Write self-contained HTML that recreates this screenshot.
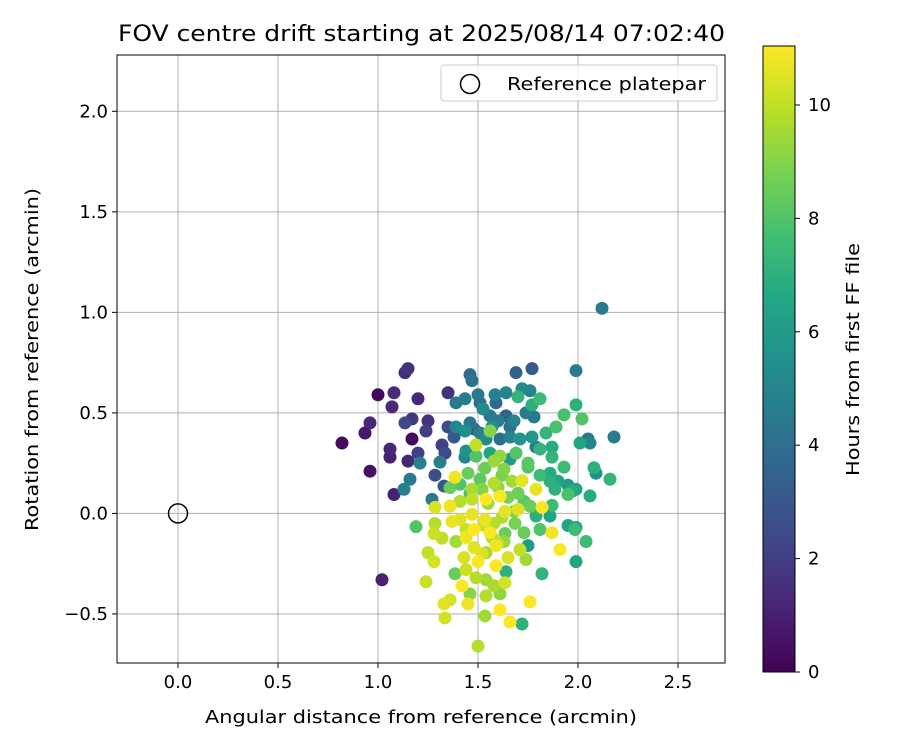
<!DOCTYPE html>
<html><head><meta charset="utf-8"><style>
body{margin:0;background:#fff;font-family:"DejaVu Sans","Liberation Sans",sans-serif}
</style></head><body>
<svg id="chart" width="900" height="750" xmlns="http://www.w3.org/2000/svg" font-family="DejaVu Sans, Liberation Sans, sans-serif">
<defs><linearGradient id="vir" x1="0" y1="1" x2="0" y2="0">
<stop offset="0" stop-color="#440154"/><stop offset="0.1" stop-color="#482475"/><stop offset="0.2" stop-color="#414487"/><stop offset="0.3" stop-color="#355f8d"/><stop offset="0.4" stop-color="#2a788e"/><stop offset="0.5" stop-color="#21918c"/><stop offset="0.6" stop-color="#22a884"/><stop offset="0.7" stop-color="#44bf70"/><stop offset="0.8" stop-color="#7ad151"/><stop offset="0.9" stop-color="#bddf26"/><stop offset="1" stop-color="#fde725"/></linearGradient>
<clipPath id="pc"><rect x="117" y="55" width="608" height="608"/></clipPath></defs>
<g id="grid"></g>
<g id="pts" clip-path="url(#pc)"></g>
<rect x="117" y="55" width="608" height="608" fill="none" stroke="#000" stroke-width="1"/>
<g id="ticks" font-size="18"></g>
<text x="118" y="41" font-size="22" textLength="607" lengthAdjust="spacingAndGlyphs">FOV centre drift starting at 2025/08/14 07:02:40</text>
<text x="205" y="723" font-size="18" textLength="432" lengthAdjust="spacingAndGlyphs">Angular distance from reference (arcmin)</text>
<text transform="translate(38,531) rotate(-90)" font-size="18" textLength="343" lengthAdjust="spacingAndGlyphs">Rotation from reference (arcmin)</text>
<g>
<rect x="441" y="65" width="276" height="36" rx="3" fill="#fff" fill-opacity="0.8" stroke="#ccc"/>
<circle cx="470" cy="84" r="9.5" fill="none" stroke="#000" stroke-width="1.5"/>
<text x="507" y="90" font-size="18" textLength="199" lengthAdjust="spacingAndGlyphs">Reference platepar</text></g>
<rect x="763" y="46" width="32" height="626" fill="url(#vir)" stroke="#000" stroke-width="1"/>
<g id="cbt" font-size="18"></g>
<text transform="translate(859,476) rotate(-90)" font-size="18" textLength="233" lengthAdjust="spacingAndGlyphs">Hours from first FF file</text>
</svg>
<script>
const xTicks=[0,0.5,1,1.5,2,2.5];
const xTickLabels=["0.0","0.5","1.0","1.5","2.0","2.5"];
const yTicks=[-0.5,0,0.5,1,1.5,2];
const yTickLabels=["\u22120.5","0.0","0.5","1.0","1.5","2.0"];
const cbTicks=[0,2,4,6,8,10];
const refPoint=[0,0];
const ptX=[0.82,1.0,1.08,1.2,1.15,1.135,1.07,0.96,0.935,1.17,1.135,1.17,1.25,1.24,1.06,1.06,1.15,1.2,1.21,0.96,1.08,1.13,1.16,1.02,1.35,1.32,1.335,1.285,1.31,1.27,1.33,1.35,1.38,
1.46,1.47,1.39,1.435,1.5,1.51,1.525,1.56,1.585,1.59,1.64,1.72,1.76,1.7,1.81,1.77,1.74,1.78,1.68,1.64,1.39,1.435,1.48,1.51,1.54,1.56,1.49,
1.61,1.66,1.71,1.77,1.84,1.89,1.93,1.99,2.02,2.01,2.06,1.87,1.81,1.69,1.75,1.61,1.58,1.63,1.535,1.49,1.435,1.44,1.385,1.45,1.51,1.58,1.62,1.67,1.72,1.75,1.79,1.81,1.86,1.93,1.9,1.86,1.95,1.99,2.06,2.08,2.09,2.16,1.95,1.885,1.36,1.41,1.46,
1.285,1.36,1.41,1.47,1.54,1.61,1.635,1.7,1.76,1.82,1.87,1.79,1.86,1.95,1.99,1.985,1.87,1.91,1.99,2.04,1.81,1.73,1.75,1.71,1.74,1.65,1.6,1.635,1.685,1.58,1.535,1.47,1.41,1.37,1.285,1.28,1.19,1.32,1.39,1.44,1.48,1.56,1.59,1.48,1.54,1.5,1.43,1.28,1.25,1.44,1.385,1.49,1.54,1.59,1.64,1.635,1.58,1.42,1.46,1.61,1.54,1.36,1.33,1.45,1.24,1.335,1.535,1.61,1.76,1.66,1.72,1.82,1.5,
1.57,1.66,1.79,1.87,1.97,1.77,1.69,1.99,2.12,2.18,2.05,
1.52,1.55,1.6,1.65,1.7,1.47,1.53,1.62,1.68,1.44,1.57,1.52,1.63,1.73,1.56,1.66,1.46,1.6];
const ptY=[0.35,0.59,0.6,0.57,0.72,0.7,0.53,0.45,0.4,0.37,0.45,0.47,0.46,0.41,0.32,0.28,0.26,0.3,0.25,0.21,0.094,0.12,0.17,-0.33,0.6,0.34,0.3,0.19,0.255,0.07,0.136,0.43,0.38,
0.69,0.66,0.55,0.57,0.59,0.55,0.52,0.485,0.59,0.55,0.6,0.62,0.61,0.58,0.57,0.54,0.5,0.48,0.46,0.485,0.43,0.41,0.42,0.4,0.37,0.41,0.34,
0.37,0.38,0.37,0.38,0.4,0.43,0.49,0.54,0.47,0.35,0.35,0.33,0.32,0.3,0.25,0.285,0.26,0.22,0.225,0.285,0.28,0.31,0.18,0.2,0.17,0.15,0.19,0.16,0.163,0.23,0.12,0.19,0.2,0.23,0.16,0.16,0.14,0.12,0.087,0.227,0.2,0.17,0.094,0.12,0.128,0.145,0.1,
0.03,0.036,0.06,0.07,0.07,0.086,0.011,0.02,0.036,0.03,0.04,-0.013,-0.013,-0.06,-0.07,-0.08,-0.096,-0.18,-0.24,-0.14,-0.08,-0.096,-0.16,-0.18,-0.23,-0.22,-0.15,-0.1,-0.05,-0.05,-0.03,-0.005,-0.03,-0.04,-0.05,-0.1,-0.066,-0.123,-0.14,-0.12,-0.08,-0.096,-0.16,-0.17,-0.195,-0.24,-0.22,-0.24,-0.195,-0.28,-0.3,-0.32,-0.33,-0.26,-0.29,-0.345,-0.36,-0.36,-0.4,-0.4,-0.41,-0.43,-0.45,-0.45,-0.34,-0.52,-0.51,-0.48,-0.44,-0.54,-0.55,-0.3,-0.66,
0.43,0.43,0.33,0.28,0.11,0.72,0.7,0.71,1.02,0.38,0.37,
0.12,0.05,0.13,0.08,0.1,0.12,-0.06,-0.02,0.01,-0.08,-0.12,-0.2,-0.14,0.06,0.3,0.27,0.45,0.46];
const ptHours=[0.3,0.2,1.3,1.2,1.6,1.5,1.3,1.2,0.7,0.3,2.4,1.8,1.6,2.0,1.2,1.0,1.2,2.0,4.9,0.5,1.0,4.8,4.5,1.0,1.6,2.0,2.5,2.6,4.7,4.5,3.0,2.5,3.0,
3.8,4.2,4.5,4.6,4.5,4.0,5.3,4.5,4.8,3.8,5.0,5.2,5.0,7.2,7.5,7.0,4.7,4.5,5.0,3.5,5.1,5.5,3.3,4.8,5.2,9.0,10.0,
4.0,5.0,5.7,5.8,7.2,7.8,7.8,7.0,8.0,6.5,5.0,6.8,7.2,8.0,8.2,9.2,9.4,9.0,8.5,8.0,5.0,5.5,10.8,8.5,8.3,9.8,8.8,9.5,10.6,8.0,10.7,7.5,6.8,7.5,6.5,7.0,6.0,6.5,6.8,7.0,5.5,7.2,7.8,7.0,8.5,8.0,7.8,
10.4,10.8,9.8,10.0,11,11,10.6,10.5,8.5,11,7.5,7.0,6.5,6.5,6.2,7.5,10.8,11,6.5,7.5,8.0,8.5,6.0,10.0,9.5,10.4,10.0,8.5,8.8,9.8,10.7,10.6,10.5,10.7,9.8,10.2,8.0,10.0,9.5,10.8,11,11,10.8,10.5,9.5,11,10.4,10.3,10.0,10.2,8.5,9.8,9.5,11,7.0,10.3,9.6,11,9.0,9.2,9.8,10.3,10.5,10.8,10.2,10.3,9.5,11,11,11,7.0,7.2,9.8,
5.5,4.0,4.5,7.2,6.8,3.2,3.5,4.6,4.5,4.6,4.3,
9.0,9.5,9.2,8.8,8.6,9.6,10.2,9.7,8.9,10.1,9.8,10.4,9.3,8.2,6.5,6.0,4.3,4.6];
const NS="http://www.w3.org/2000/svg";
const X0=117,X1=725,Y0=55,Y1=663,xmin=-0.305,xmax=2.735,ymin=-0.744,ymax=2.28,cmax=11.04;
const sx=v=>X0+(v-xmin)/(xmax-xmin)*(X1-X0);
const sy=v=>Y1-(v-ymin)/(ymax-ymin)*(Y1-Y0);
const sc=v=>672-v/cmax*626;
const vir=[[68,1,84],[72,36,117],[65,68,135],[53,95,141],[42,120,142],[33,145,140],[34,168,132],[68,191,112],[122,209,81],[189,223,38],[253,231,37]];
function cmap(h){let t=Math.max(0,Math.min(1,h/cmax))*10,i=Math.min(9,Math.floor(t)),f=t-i,a=vir[i],b=vir[i+1];return `rgb(${a.map((c,k)=>Math.round(c+(b[k]-c)*f)).join(',')})`;}
function mk(tag,attrs,parent){const e=document.createElementNS(NS,tag);for(const k in attrs)e.setAttribute(k,attrs[k]);parent.appendChild(e);return e;}
const grid=document.getElementById('grid'),ticks=document.getElementById('ticks'),pts=document.getElementById('pts'),cbt=document.getElementById('cbt');
xTicks.forEach((v,i)=>{const x=sx(v);
 const g=mk('line',{x1:x,x2:x,y1:Y0,y2:Y1,stroke:'#b0b0b0','stroke-width':1},grid);
 
 
 mk('line',{x1:x,x2:x,y1:Y1,y2:Y1+5,stroke:'#000'},ticks);
 const t=mk('text',{x:x,y:Y1+25,'text-anchor':'middle'},ticks);t.textContent=xTickLabels[i];
 
 });
yTicks.forEach((v,i)=>{const y=sy(v);
 const g=mk('line',{x1:X0,x2:X1,y1:y,y2:y,stroke:'#b0b0b0','stroke-width':1},grid);
 
 
 mk('line',{x1:X0-5,x2:X0,y1:y,y2:y,stroke:'#000'},ticks);
 const t=mk('text',{x:X0-9,y:y+6,'text-anchor':'end'},ticks);t.textContent=yTickLabels[i];
 
 });
const order=ptHours.map((h,i)=>i).sort((a,b)=>ptHours[a]-ptHours[b]);
order.forEach(i=>{const c=mk('circle',{cx:sx(ptX[i]),cy:sy(ptY[i]),r:6.5,fill:cmap(ptHours[i])},pts);
 
 });
const ref=mk('circle',{cx:sx(refPoint[0]),cy:sy(refPoint[1]),r:9.5,fill:'none',stroke:'#000','stroke-width':1.5},pts);


cbTicks.forEach(v=>{const y=sc(v);mk('line',{x1:795,x2:800,y1:y,y2:y,stroke:'#000'},cbt);
 const t=mk('text',{x:808,y:y+6},cbt);t.textContent=v;
 
 });
</script>
</body></html>
